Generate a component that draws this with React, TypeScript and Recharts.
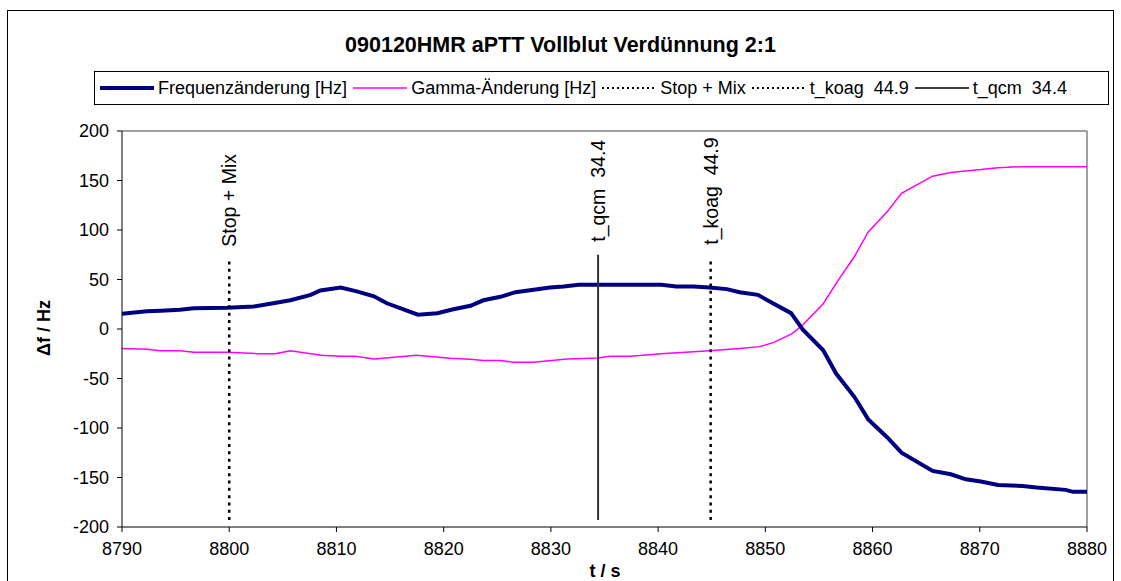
import { LineChart, Line, XAxis, YAxis, ReferenceLine, LabelList } from "recharts";

const FONT = "'Liberation Sans', Arial, sans-serif";

// Frequenzänderung [Hz]
const freqTime = [
  8790.0, 8792.3, 8793.6, 8795.4, 8796.7, 8799.8, 8802.3, 8804.1, 8805.7, 8807.6,
  8808.5, 8810.4, 8811.9, 8813.5, 8814.7, 8817.6, 8819.4, 8820.9, 8822.5, 8823.7,
  8825.3, 8826.7, 8828.4, 8829.9, 8831.2, 8832.6, 8834.4, 8837.4, 8840.3, 8841.7,
  8843.3, 8844.8, 8846.4, 8847.6, 8849.3, 8850.7, 8852.4, 8853.5, 8855.4, 8856.6,
  8858.3, 8859.6, 8861.4, 8862.7, 8865.6, 8867.3, 8868.7, 8870.1, 8871.7, 8874.0,
  8875.3, 8878.0, 8878.7, 8880.0,
];
const freqHz = [
  15.5, 18, 18.5, 19.4, 21, 21.5, 22.8, 26, 29, 34.5,
  38.9, 41.9, 38, 33, 26, 14.4, 16, 20, 23.5, 29,
  32.5, 37.2, 39.6, 41.9, 42.9, 44.6, 44.6, 44.6, 44.6, 43,
  43, 42, 40.3, 37.2, 34.5, 26, 16, -0.7, -21.5, -45,
  -68.5, -91.3, -109.8, -124.9, -143.4, -146.7, -151.8, -154.1, -157.5, -158.5,
  -160.1, -162.5, -164.5, -164.5,
];

// Gamma-Änderung [Hz]
const gammaTime = [
  8790.0, 8792.3, 8793.6, 8795.4, 8796.7, 8799.8, 8802.6, 8804.3, 8805.7, 8808.6,
  8810.4, 8811.8, 8813.5, 8817.5, 8820.6, 8822.5, 8823.7, 8825.3, 8826.5, 8828.4,
  8831.5, 8834.4, 8835.5, 8837.4, 8840.3, 8844.8, 8847.6, 8849.5, 8850.8, 8852.5,
  8853.5, 8855.4, 8856.8, 8858.3, 8859.6, 8861.4, 8862.7, 8865.6, 8867.3, 8868.7,
  8870.1, 8871.7, 8874.0, 8880.0,
];
const gammaHz = [
  -19.8, -20.5, -21.9, -21.9, -23.5, -23.5, -24.9, -24.9, -21.9, -26.6,
  -27.6, -27.6, -30.2, -26.6, -29.6, -30.6, -31.9, -31.9, -33.6, -33.6,
  -30.2, -29.2, -27.6, -27.6, -24.9, -21.9, -19.8, -17.8, -13.5, -4.7,
  4.3, 25.5, 49.3, 73, 98, 119, 137, 154.4, 158, 159.7,
  161, 163, 164, 164,
];

// vertical markers
const markerNames = ["Stop + Mix", "t_koag  44.9", "t_qcm  34.4"];
const markerTime = [8800, 8844.9, 8834.4];
const markerLow = [-193, -193, -193];
const markerHigh = [70, 72, 75];

const xTicks = [8790, 8800, 8810, 8820, 8830, 8840, 8850, 8860, 8870, 8880];
const yTicks = [-200, -150, -100, -50, 0, 50, 100, 150, 200];

const freqData = freqTime.map((t, i) => ({ t, v: freqHz[i] }));
const gammaData = gammaTime.map((t, i) => ({ t, v: gammaHz[i] }));
const markerData = markerTime.map((t, i) => [
  { t, v: markerLow[i] },
  { t, v: markerHigh[i] },
]);

function markerLabel(name: string) {
  return (props: any) => {
    if (props.index !== 1) return null;
    const x = Number(props.x);
    const y = Number(props.y) - 13;
    return (
      <g transform={`translate(${x}, ${y}) rotate(-90)`}>
        <text
          x={0}
          y={0}
          dy="0.36em"
          textAnchor="start"
          fontSize={19.5}
          fontFamily={FONT}
          fill="#000"
          style={{ whiteSpace: "pre" }}
        >
          {name}
        </text>
      </g>
    );
  };
}

function LegendSample({ color, width, dash }: { color: string; width: number; dash?: string }) {
  return (
    <svg width={54} height={10} style={{ display: "block" }}>
      <line x1={0} y1={5} x2={54} y2={5} stroke={color} strokeWidth={width} strokeDasharray={dash} />
    </svg>
  );
}

const legendItems = [
  { name: "Frequenzänderung [Hz]", color: "#000080", width: 4 },
  { name: "Gamma-Änderung [Hz]", color: "#ff00ff", width: 1.5 },
  { name: "Stop + Mix", color: "#000", width: 2, dash: "2 3" },
  { name: "t_koag  44.9", color: "#000", width: 2, dash: "2 3" },
  { name: "t_qcm  34.4", color: "#000", width: 1.5 },
];

export default function App() {
  const markerStyles = [
    { stroke: "#000", width: 2.5, dash: "3 4.3" },
    { stroke: "#000", width: 2.5, dash: "3 4.3" },
    { stroke: "#333", width: 2, dash: undefined },
  ];

  return (
    <div
      style={{
        position: "absolute",
        left: 0,
        top: 0,
        width: 1121,
        height: 581,
        background: "#fff",
        fontFamily: FONT,
        overflow: "hidden",
      }}
    >
      <div
        style={{
          position: "absolute",
          left: 7,
          top: 10,
          width: 1105,
          height: 600,
          border: "1px solid #000",
        }}
      />
      <div
        style={{
          position: "absolute",
          left: 0,
          top: 33,
          width: 1121,
          textAlign: "center",
          fontSize: 21.5,
          lineHeight: "24px",
          fontWeight: "bold",
        }}
      >
        090120HMR aPTT Vollblut Verdünnung 2:1
      </div>

      <div
        style={{
          position: "absolute",
          left: 94,
          top: 71,
          width: 1008,
          height: 32,
          border: "1px solid #000",
          display: "flex",
          alignItems: "center",
          paddingLeft: 5,
          boxSizing: "content-box",
          fontSize: 18,
          whiteSpace: "pre",
        }}
      >
        {legendItems.map((it) => (
          <div key={it.name} style={{ display: "flex", alignItems: "center", marginRight: 6 }}>
            <LegendSample color={it.color} width={it.width} dash={it.dash} />
            <span style={{ marginLeft: 4 }}>{it.name}</span>
          </div>
        ))}
      </div>

      <div style={{ position: "absolute", left: 0, top: 0 }}>
        <LineChart width={1121} height={581} margin={{ top: 131, right: 34, bottom: 24, left: 62 }}>
          <XAxis
            dataKey="t"
            type="number"
            domain={[8790, 8880]}
            ticks={xTicks}
            allowDataOverflow
            height={30}
            stroke="#000"
            tickSize={5}
            tickMargin={10}
            tick={{ fill: "#000", fontSize: 18, fontFamily: FONT }}
          />
          <YAxis
            type="number"
            domain={[-200, 200]}
            ticks={yTicks}
            width={60}
            stroke="#000"
            tickSize={5}
            tickMargin={8}
            tick={{ fill: "#000", fontSize: 18, fontFamily: FONT }}
          />
          <ReferenceLine y={200} stroke="#808080" strokeWidth={1.5} />
          <ReferenceLine x={8880} stroke="#808080" strokeWidth={1.5} />
          <Line
            data={gammaData}
            dataKey="v"
            stroke="#ff00ff"
            strokeWidth={1.5}
            dot={false}
            isAnimationActive={false}
          />
          <Line
            data={freqData}
            dataKey="v"
            stroke="#000080"
            strokeWidth={4}
            dot={false}
            isAnimationActive={false}
          />
          {markerData.map((d, i) => (
            <Line
              key={markerNames[i]}
              data={d}
              dataKey="v"
              stroke={markerStyles[i].stroke}
              strokeWidth={markerStyles[i].width}
              strokeDasharray={markerStyles[i].dash}
              dot={false}
              isAnimationActive={false}
            >
              <LabelList dataKey="v" content={markerLabel(markerNames[i])} />
            </Line>
          ))}
        </LineChart>
      </div>

      <div
        style={{
          position: "absolute",
          left: 12,
          top: 318,
          width: 64,
          textAlign: "center",
          fontSize: 18,
          lineHeight: "20px",
          fontWeight: "bold",
          transform: "rotate(-90deg)",
        }}
      >
        Δf / Hz
      </div>
      <div
        style={{
          position: "absolute",
          left: 555,
          top: 561,
          width: 100,
          textAlign: "center",
          fontSize: 18,
          lineHeight: "20px",
          fontWeight: "bold",
        }}
      >
        t / s
      </div>
    </div>
  );
}
